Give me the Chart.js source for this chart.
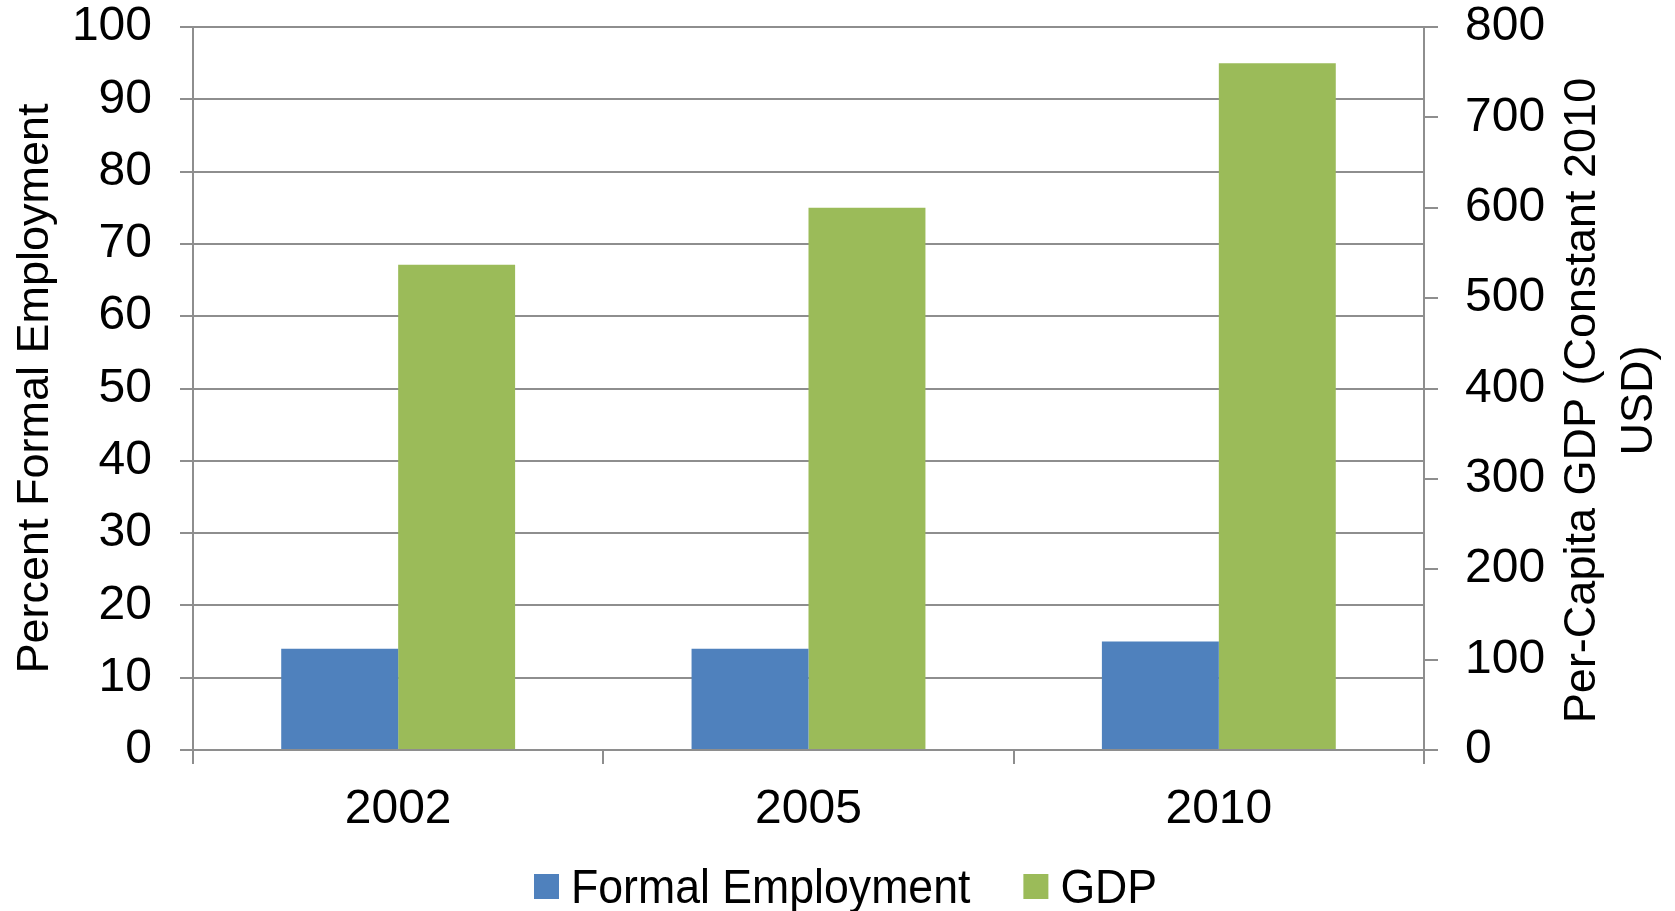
<!DOCTYPE html>
<html>
<head>
<meta charset="utf-8">
<title>Formal Employment and GDP</title>
<script src="https://cdn.jsdelivr.net/npm/chart.js@4.4.0/dist/chart.umd.min.js"></script>
<style>
  html, body { margin: 0; padding: 0; background: #ffffff; }
  #wrap { width: 1675px; height: 911px; }
</style>
</head>
<body>
<div id="wrap"><canvas id="chart"></canvas></div>
<script>
// data
const years = ["2002", "2005", "2010"]
const formalEmployment = [14, 14, 15]
const gdpPerCapita = [537, 600, 760]
const employmentTicks = [0, 10, 20, 30, 40, 50, 60, 70, 80, 90, 100]
const gdpTicks = [0, 100, 200, 300, 400, 500, 600, 700, 800]
const leftTitle = "Percent Formal Employment"
const rightTitle = ["Per-Capita GDP (Constant 2010", "USD)"]

const BLUE = "#4f81bd"
const GREEN = "#9bbb59"
const GRID = "#8e8e8e"
const sans = "'Liberation Sans', Arial, sans-serif"

const useTicks = (list) => (scale) => {
  scale.ticks = list.map(v => ({ value: v }))
}

// tick padding would otherwise push the plot down
const fixWidth = (w) => (scale) => {
  scale.width = w
  scale.paddingTop = 0
  scale.paddingBottom = 0
}

// right axis title reads bottom-to-top like the left one, so draw it here
const rightTitlePlugin = {
  id: "rightTitle",
  afterDraw(chart) {
    const ctx = chart.ctx
    const area = chart.chartArea
    const midY = (area.top + area.bottom) / 2 + 12
    ctx.save()
    ctx.font = "45px " + sans
    ctx.fillStyle = "#000"
    ctx.textAlign = "center"
    ctx.textBaseline = "middle"
    ctx.translate(1583, midY)
    ctx.rotate(-Math.PI / 2)
    rightTitle.forEach((line, i) => ctx.fillText(line, 0, i * 57))
    ctx.restore()
  }
}

// legend: the original face is a touch narrower, so squeeze the text a bit
const legendPlugin = {
  id: "narrowLegend",
  afterDraw(chart) {
    const ctx = chart.ctx
    const squeeze = 0.93
    const baseline = 903
    let x = 534
    ctx.save()
    ctx.font = "48px " + sans
    ctx.textBaseline = "alphabetic"
    ctx.textAlign = "left"
    chart.data.datasets.forEach((ds) => {
      ctx.fillStyle = ds.backgroundColor
      ctx.fillRect(x, 874, 25, 25)
      x += 37
      ctx.save()
      ctx.translate(x, baseline)
      ctx.scale(squeeze, 1)
      ctx.fillStyle = "#000"
      ctx.fillText(ds.label, 0, 0)
      ctx.restore()
      x += ctx.measureText(ds.label).width * squeeze + 53
    })
    ctx.restore()
  }
}

new Chart(document.getElementById("chart"), {
  type: "bar",
  data: {
    labels: years,
    datasets: [
      {
        label: "Formal Employment",
        data: formalEmployment,
        backgroundColor: BLUE,
        yAxisID: "y"
      },
      {
        label: "GDP",
        data: gdpPerCapita,
        backgroundColor: GREEN,
        yAxisID: "y1"
      }
    ]
  },
  options: {
    responsive: true,
    maintainAspectRatio: false,
    animation: false,
    categoryPercentage: 0.57,
    barPercentage: 1.0,
    layout: {
      padding: { top: 27, left: 0, right: 0, bottom: 67 }
    },
    plugins: {
      tooltip: { enabled: false },
      legend: { display: false }
    },
    scales: {
      x: {
        offset: true,
        grid: {
          offset: true,
          drawOnChartArea: false,
          drawTicks: true,
          tickLength: 14,
          color: GRID,
          lineWidth: 2
        },
        border: { display: true, color: GRID, width: 2 },
        ticks: {
          color: "#000",
          padding: 22,
          font: { family: sans, size: 48, lineHeight: 1 }
        },
        afterFit(scale) { scale.height = 94 }
      },
      y: {
        position: "left",
        min: 0,
        max: 100,
        afterBuildTicks: useTicks(employmentTicks),
        grid: {
          drawOnChartArea: true,
          drawTicks: true,
          tickLength: 13,
          color: GRID,
          lineWidth: 2
        },
        border: { display: true, color: GRID, width: 2 },
        ticks: {
          color: "#000",
          padding: 28,
          font: { family: sans, size: 48, lineHeight: 1 }
        },
        title: {
          display: true,
          text: leftTitle,
          color: "#000",
          padding: { top: 9, bottom: 0 },
          font: { family: sans, size: 45 }
        },
        afterFit: fixWidth(193)
      },
      y1: {
        position: "right",
        min: 0,
        max: 800,
        afterBuildTicks: useTicks(gdpTicks),
        grid: {
          drawOnChartArea: false,
          drawTicks: true,
          tickLength: 14,
          color: GRID,
          lineWidth: 2
        },
        border: { display: true, color: GRID, width: 2 },
        ticks: {
          color: "#000",
          padding: 27,
          font: { family: sans, size: 48, lineHeight: 1 }
        },
        afterFit: fixWidth(251)
      }
    }
  },
  plugins: [rightTitlePlugin, legendPlugin]
})
</script>
</body>
</html>
